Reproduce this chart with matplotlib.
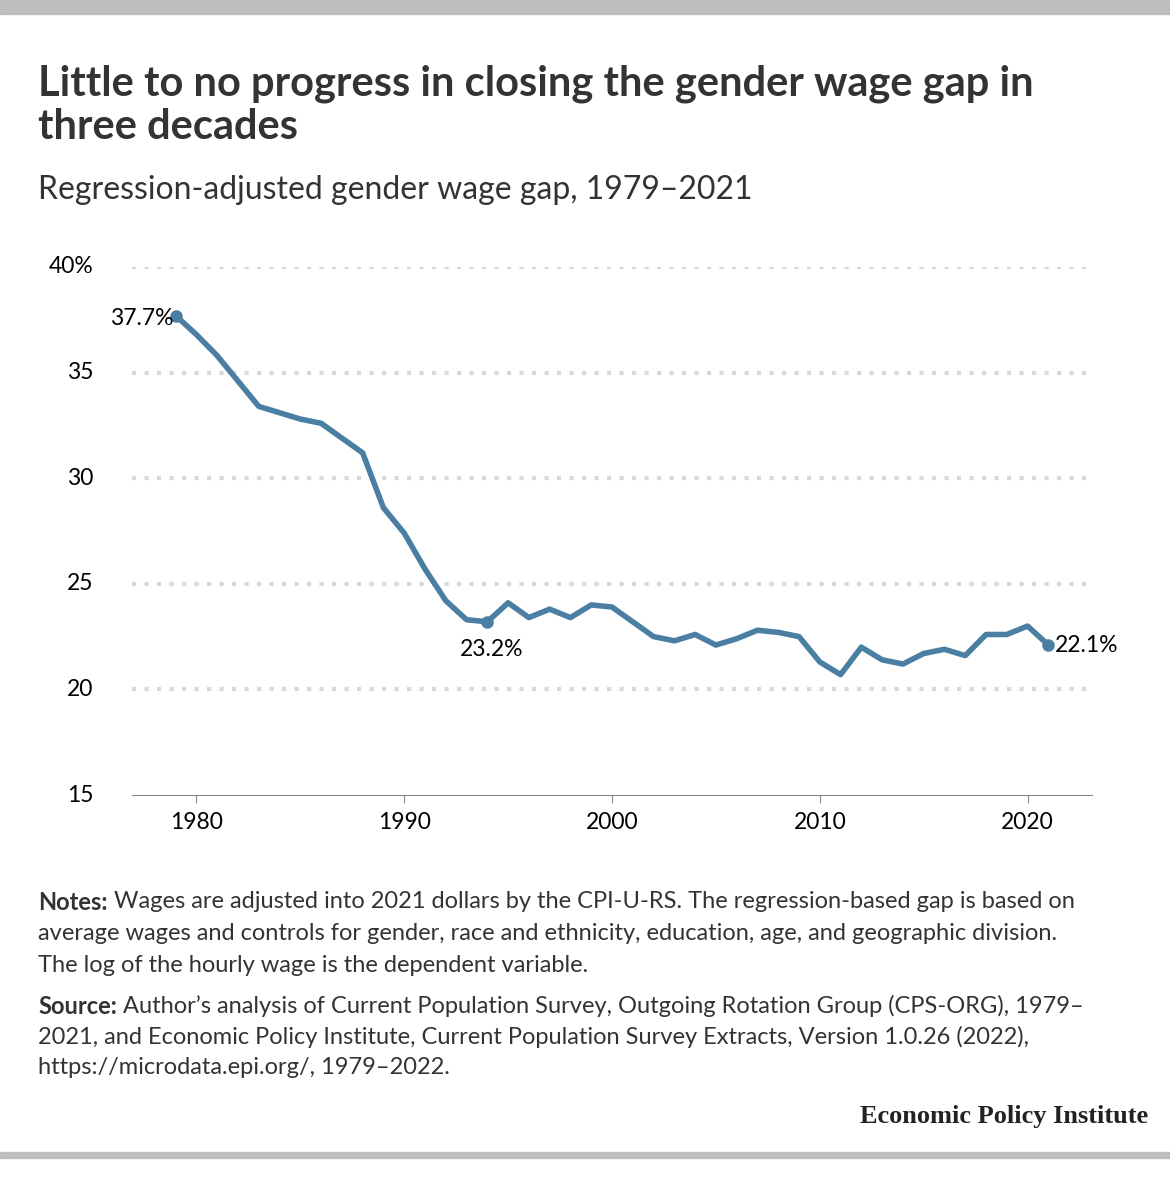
import matplotlib
matplotlib.use("Agg")
import matplotlib.pyplot as plt

years = list(range(1979, 2022))
gap = [37.7, 36.8, 35.8, 34.6, 33.4, 33.1, 32.8, 32.6, 31.9, 31.2,
       28.6, 27.4, 25.7, 24.2, 23.3, 23.2, 24.1, 23.4, 23.8, 23.4,
       24.0, 23.9, 23.2, 22.5, 22.3, 22.6, 22.1, 22.4, 22.8, 22.7,
       22.5, 21.3, 20.7, 22.0, 21.4, 21.2, 21.7, 21.9, 21.6, 22.6,
       22.6, 23.0, 22.1]
yticks = [15, 20, 25, 30, 35, 40]
ytick_labels = ["15", "20", "25", "30", "35", "40%"]
xticks = [1980, 1990, 2000, 2010, 2020]

plt.rcParams['font.family'] = ['Lato', 'DejaVu Sans']
W, H = 1170, 1200
fig = plt.figure(figsize=(W/100, H/100), dpi=100)
col = '#4a7fa3'
fs = 16.5

fig.patches.append(plt.Rectangle((0, 1-14/H), 1, 14/H, transform=fig.transFigure, color='#bdbdbd'))
fig.patches.append(plt.Rectangle((0, 1-1158/H), 1, 6/H, transform=fig.transFigure, color='#bdbdbd'))

ax = fig.add_axes([132/W, 1-795/H, (1092-132)/W, (795-267)/H])
ax.plot(years, gap, color=col, lw=4, solid_joinstyle='round', solid_capstyle='round')
for i in [0, 15, 42]:
    ax.plot(years[i], gap[i], 'o', color=col, ms=8)
ax.text(years[0]-0.1, gap[0]-0.15, f"{gap[0]}%", ha='right', va='center', fontsize=fs)
ax.text(years[15]+0.2, gap[15]-1.3, f"{gap[15]}%", ha='center', va='center', fontsize=fs)
ax.text(years[42]+0.3, gap[42], f"{gap[42]}%", ha='left', va='center', fontsize=fs)

ax.set_xlim(1976.9, 2023.1)
ax.set_ylim(15, 40)
ax.set_yticks(yticks)
ax.set_yticklabels(ytick_labels, fontsize=fs)
ax.set_xticks(xticks)
ax.set_xticklabels([str(x) for x in xticks], fontsize=fs)
for y in yticks[1:]:
    ax.axhline(y, color='#d9d9d9', lw=3, ls=(0, (1, 2)), zorder=0)
for s in ['top', 'right', 'left']:
    ax.spines[s].set_visible(False)
ax.spines['bottom'].set_color('#888888')
ax.tick_params(axis='y', length=0, pad=28)
ax.tick_params(axis='x', length=6, color='#888888', pad=6)
for lab in ax.get_yticklabels():
    lab.set_verticalalignment('center')

fig.text(38/W, 1-105/H, "Little to no progress in closing the gender wage gap in\nthree decades",
         fontsize=30, fontweight='bold', color='#333333', va='center', linespacing=1.15)
fig.text(38/W, 1-190/H, "Regression-adjusted gender wage gap, 1979\u20132021", fontsize=23,
         color='#333333', va='center')

notes = [(902, "Notes:", " Wages are adjusted into 2021 dollars by the CPI-U-RS. The regression-based gap is based on"),
         (933, "", "average wages and controls for gender, race and ethnicity, education, age, and geographic division."),
         (965, "", "The log of the hourly wage is the dependent variable."),
         (1006, "Source:", " Author\u2019s analysis of Current Population Survey, Outgoing Rotation Group (CPS-ORG), 1979\u2013"),
         (1037, "", "2021, and Economic Policy Institute, Current Population Survey Extracts, Version 1.0.26 (2022),"),
         (1068, "", "https://microdata.epi.org/, 1979\u20132022.")]
fig.canvas.draw()
for y, b, t in notes:
    x2 = 38/W
    if b:
        txt = fig.text(38/W, 1-y/H, b, fontsize=17, fontweight='bold', color='#333333', va='center')
        fig.canvas.draw()
        x2 = txt.get_window_extent().x1 / W
    fig.text(x2, 1-y/H, t, fontsize=17, color='#333333', va='center')

fig.text(1148/W, 1-1117/H, "Economic Policy Institute", fontsize=19, fontweight='bold',
         family=['Liberation Serif', 'DejaVu Serif'], ha='right', va='center', color='#222222')

fig.savefig("out.png", dpi=100, facecolor='white')
